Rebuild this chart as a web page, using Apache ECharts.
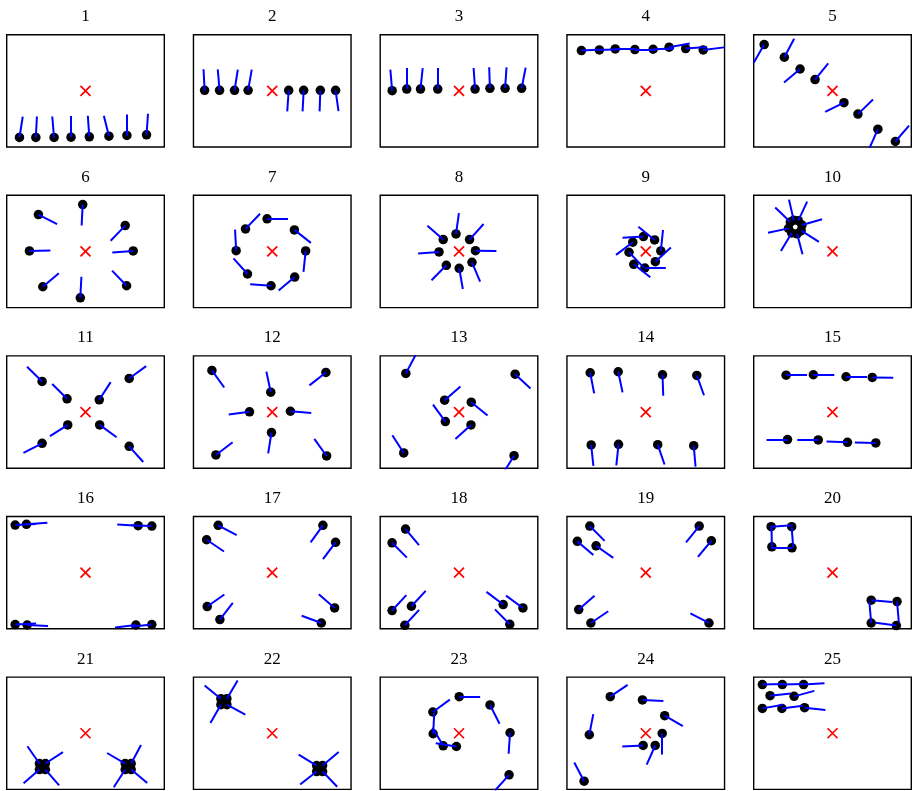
<!DOCTYPE html>
<html>
<head>
<meta charset="utf-8">
<title>agents</title>
<script src="https://cdn.jsdelivr.net/npm/echarts@6/dist/echarts.min.js"></script>
<style>
  html, body { margin: 0; padding: 0; background: #fff; }
  #main { width: 915px; height: 791px; }
</style>
</head>
<body>
<div id="main"></div>
<script>
// panel titles
var panelNames = ['1','2','3','4','5','6','7','8','9','10','11','12','13','14','15','16','17','18','19','20','21','22','23','24','25'];

// agent positions (x, y) per panel, centre of panel = 0
var agentX = [
  [-66.2,-49.8,-31.5,-14.5,3.8,23.5,41.5,61.2],
  [-67.8,-52.8,-37.8,-24.2,16.5,31.5,48.2,63.5],
  [-67,-52.4,-38.6,-21.3,16.1,31,46.2,62.8],
  [-64.5,-46.5,-30.6,-10.9,7.4,23.4,40,57.6],
  [-68.5,-48.3,-32.5,-17.5,11.5,25.5,45.5,63],
  [-47.2,-2.8,39.8,47.8,41.2,-5.2,-42.8,-56.2],
  [-26.8,-5.2,22.2,33.5,22.5,-1.2,-24.8,-36.2],
  [-15.8,-3,10.6,16.5,13,0.2,-12.7,-20],
  [-13,-2.3,8.9,15.1,9.6,-0.9,-12,-16.8],
  [-38.9,-34.3,-30.6,-31.4,-35.5,-40.9,-44.1,-42.3],
  [-43.5,-18.5,13.8,43.8,-17.8,-43.5,14.2,43.8],
  [-60.5,53.8,-1.5,-22.8,18.2,-0.8,-56.5,54.5],
  [-53.3,56.3,-14.4,12.3,-13.7,12,-55.4,55.2],
  [-55.7,-27.6,16.8,51.2,-54.7,-27.3,12,48.1],
  [-46.5,-19.2,13.6,39.9,-45.1,-14.3,15,43.4],
  [-70.5,-59.2,52.8,66.5,-70.5,-58.5,50.5,66.5],
  [-54.2,-65.8,50.8,63.5,-65.2,-52.5,62.5,49.2],
  [-53.6,-67.1,-67.1,-47.7,-54.3,44.3,64.1,50.9],
  [-56.1,-68.6,-49.8,53.6,65.8,-67.2,-55,63.4],
  [-61.5,-40.9,-60.8,-40.6,38.8,64.7,38.8,64.0],
  [-46.2,-40.2,-40.2,-46.2,39.8,45.8,45.8,39.8],
  [-51.5,-45.5,-45.5,-51.5,44.5,50.5,50.5,44.5],
  [0.2,31.1,51.2,50.2,-26.2,-25.9,-15.8,-2.6],
  [-35.6,-3.3,19,16.5,9.5,-2.6,-56.6,-61.8],
  [-70.3,-50.3,-29,-62.6,-38.5,-70.3,-50.7,-28.0]
];
var agentY = [
  [-46.5,-46.5,-46.5,-46.2,-45.8,-45.2,-44.5,-43.8],
  [0.5,0.5,0.5,0.5,0.5,0.5,0.5,0.5],
  [0.2,1.8,1.8,1.8,1.8,2.5,2.5,2.5],
  [40.2,40.8,41.8,41.2,41.5,43.5,42.2,40.8],
  [46.2,33.5,21.8,11.2,-11.8,-23.2,-38.2,-50.5],
  [36.8,46.8,25.8,0.5,-34.2,-46.2,-35.2,0.5],
  [22.5,32.5,21.5,0.5,-25.5,-34.2,-22.5,0.8],
  [11.8,17.5,11.8,0.8,-10.8,-16.8,-13.8,-0.5],
  [9.2,14.8,11.5,0.5,-10.2,-16.5,-12.8,-0.8],
  [31.2,30.7,26.3,20.7,17.6,18.4,23.0,29.3],
  [30.5,13.2,12.2,33.5,-12.8,-31.2,-12.8,-34.2],
  [41.5,39.5,19.8,0.2,0.8,-20.5,-42.8,-43.8],
  [38.5,37.8,11.8,9.8,-9.5,-12.8,-40.8,-43.5],
  [39.2,40.2,37.2,36.5,-32.8,-32.2,-32.5,-33.5],
  [36.8,37.2,35.2,34.5,-27.5,-27.8,-30.2,-30.8],
  [47.5,48.2,46.8,46.5,-51.8,-52.2,-52.2,-51.8],
  [47.2,32.8,47.2,30.2,-33.8,-46.8,-35.2,-50.2],
  [43.5,29.8,-37.8,-33.5,-52.5,-31.8,-35.2,-51.5],
  [46.5,31.2,26.8,46.5,31.8,-36.8,-50.2,-50.2],
  [45.8,45.8,25.8,24.8,-27.5,-28.8,-50.2,-52.8],
  [-30.2,-30.2,-36.2,-36.2,-30.2,-30.2,-36.2,-36.2],
  [34.5,34.5,28.5,28.5,-32.2,-32.2,-38.2,-38.2],
  [36.5,28.2,0.5,-41.5,21.2,-0.5,-12.5,-13.2],
  [36.5,33.2,17.5,-0.2,-12.2,-12.2,-1.5,-47.8],
  [48.5,48.5,48.5,37.5,36.8,24.8,24.8,25.5]
];
// heading of each agent in degrees (0 = right, 90 = up)
var heading = [
  [81,87,95,90,94,104,90,86],
  [93,95,81,80,-94,-93,-92,-82],
  [95,91,84,90,94,92,86,79],
  [3,2,0,0,2,10,4,7],
  [-120,62,-140,51,-154,44,-114,49],
  [-27,-93,-134,-176,134,87,40,1],
  [46,0,-38,-96,-140,176,132,93],
  [139,82,48,-1,-67,-80,-135,-176],
  [-143,-177,141,84,42,0,-38,-46],
  [103,65,16,-32,-75,-121,-168,136],
  [136,135,57,36,-148,-153,-36,-48],
  [-54,-142,102,-173,-5,-99,37,126],
  [62,-43,41,-39,126,-138,123,-122],
  [-79,-78,-88,-70,-84,-96,-71,-85],
  [0,-1,-1,-1,180,180,178,179],
  [3,4,177,178,3,-3,-173,-174],
  [-28,-34,-126,-127,35,52,139,160],
  [-50,-45,47,47,47,143,144,135],
  [-45,-40,-35,-129,-130,41,34,153],
  [4,-86,91,-179,-5,-85,95,172],
  [125,33,-49,-139,150,62,-40,-123],
  [141,59,-28,-120,149,40,-46,-142],
  [0,-63,-94,-132,36,87,121,171],
  [34,-3,-30,-90,-114,-177,79,118],
  [2,2,4,6,15,10,7,-6]
];
// target marker (red x) per panel
var targetX = [0,0,0,0,0,0,0,0,0,0,0,0,0,0,0,0,0,0,0,0,0,0,0,0,0];
var targetY = [0,0,0,0,0,0,0,0,0,0,0,0,0,0,0,0,0,0,0,0,0,0,0,0,0];

var headLen = 21;   // length of heading line
var chart = echarts.init(document.getElementById('main'));

var grids = [], xAxes = [], yAxes = [], series = [], texts = [];
for (var i = 0; i < 25; i++) {
  var col = i % 5, row = Math.floor(i / 5);
  var gLeft = 6.7 + 186.75 * col, gTop = 34.7 + 160.6 * row;
  grids.push({
    left: gLeft, top: gTop, width: 157.6, height: 112.3,
    show: true, borderColor: '#000', borderWidth: 1.4
  });
  xAxes.push({gridIndex: i, type: 'value', min: -79, max: 79, show: false});
  yAxes.push({gridIndex: i, type: 'value', min: -56, max: 56, show: false});
  texts.push({
    type: 'text', x: gLeft + 78.8, y: gTop - 18,
    style: {text: panelNames[i], fill: '#000', font: '17px "Liberation Serif", serif',
            textAlign: 'center', textVerticalAlign: 'middle'}
  });

  var pts = [], segs = [];
  for (var k = 0; k < agentX[i].length; k++) {
    var x = agentX[i][k], y = agentY[i][k];
    var a = heading[i][k] * Math.PI / 180;
    pts.push([x, y]);
    segs.push({coords: [[x, y], [x + headLen * Math.cos(a), y + headLen * Math.sin(a)]]});
  }
  // agents
  series.push({
    type: 'scatter', xAxisIndex: i, yAxisIndex: i, data: pts,
    symbol: 'circle', symbolSize: 9.5, itemStyle: {color: '#000', opacity: 1}, z: 2, silent: true
  });
  // heading lines
  series.push({
    type: 'lines', coordinateSystem: 'cartesian2d', xAxisIndex: i, yAxisIndex: i,
    data: segs, clip: true,
    lineStyle: {color: '#0000ff', width: 2, opacity: 1}, z: 3, silent: true
  });
  // target
  series.push({
    type: 'scatter', xAxisIndex: i, yAxisIndex: i, data: [[targetX[i], targetY[i]]],
    symbol: 'path://M0,0L10,10M10,0L0,10', symbolSize: 10,
    itemStyle: {color: 'transparent', borderColor: '#ff0000', borderWidth: 1.7, opacity: 1},
    z: 4, silent: true
  });
}

chart.setOption({
  animation: false,
  backgroundColor: '#fff',
  grid: grids,
  xAxis: xAxes,
  yAxis: yAxes,
  graphic: {elements: texts},
  series: series
});
</script>
</body>
</html>
